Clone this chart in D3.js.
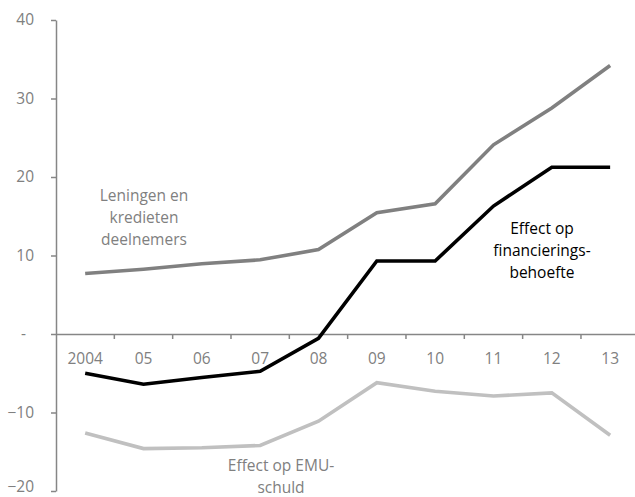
<!DOCTYPE html>
<html>
<head>
<meta charset="utf-8">
<script src="https://cdn.jsdelivr.net/npm/d3@7"></script>
<style>
  html, body { margin: 0; padding: 0; background: #fff; }
  svg text { font-family: "Open Sans", "Noto Sans", sans-serif; }
</style>
</head>
<body>
<svg id="chart" width="635" height="497"></svg>
<script>
const categories = ["2004", "05", "06", "07", "08", "09", "10", "11", "12", "13"];
const leningen = [7.7, 8.25, 8.95, 9.45, 10.75, 15.45, 16.6, 24.1, 28.8, 34.2];
const financiering = [-5.0, -6.4, -5.55, -4.75, -0.55, 9.3, 9.3, 16.3, 21.25, 21.25];
const emu = [-12.6, -14.6, -14.5, -14.2, -11.1, -6.2, -7.3, -7.9, -7.5, -12.9];
const yTicks = [-20, -10, 0, 10, 20, 30, 40];

const series = [
  { name: "Leningen en kredieten deelnemers", values: leningen, color: "#808080" },
  { name: "Effect op EMU-schuld", values: emu, color: "#c0c0c0" },
  { name: "Effect op financieringsbehoefte", values: financiering, color: "#000000" }
];

const labels = [
  { lines: ["Leningen en", "kredieten", "deelnemers"], x: 144, y: 201, color: "#808080" },
  { lines: ["Effect op", "financierings-", "behoefte"], x: 542, y: 234, color: "#000000" },
  { lines: ["Effect op EMU-", "schuld"], x: 281, y: 471, color: "#808080" }
];

const svg = d3.select("#chart");
const axisColor = "#868686";
const textColor = "#808080";
const fontSize = 15.5;

const x = d3.scaleBand().domain(categories).range([56, 639.3]);
const y = d3.scaleLinear().domain([-20, 40]).range([491, 20]);

// Y axis
const yAxis = svg.append("g")
  .attr("transform", "translate(56,0)")
  .call(d3.axisLeft(y).tickValues(yTicks).tickSize(5).tickSizeOuter(0).tickPadding(17)
    .tickFormat(d => d === 0 ? "-" : d3.format("d")(d)));
yAxis.select(".domain").attr("stroke", axisColor).attr("stroke-width", 1.5);
yAxis.selectAll(".tick line").attr("stroke", axisColor).attr("stroke-width", 1.5);
yAxis.selectAll(".tick text")
  .attr("fill", textColor).style("font-size", fontSize + "px")
  .attr("dx", d => d === 0 ? -8 : 0)
  .attr("dy", d => d === -20 ? "0.05em" : "0.32em");

// X axis at zero
const x0 = y(0);
const xAxis = svg.append("g")
  .attr("transform", `translate(0,${x0})`)
  .call(d3.axisBottom(x).tickSize(0).tickSizeOuter(0).tickPadding(19));
xAxis.select(".domain").attr("stroke", axisColor).attr("stroke-width", 1.5);
xAxis.selectAll(".tick text").attr("fill", textColor).style("font-size", fontSize + "px");
// boundary tick marks between categories
const boundaries = categories.slice(1).map(c => x(c));
boundaries.push(x(categories[categories.length - 1]) + x.bandwidth());
xAxis.selectAll(".btick").data(boundaries).enter().append("line")
  .attr("class", "btick")
  .attr("x1", d => d).attr("x2", d => d)
  .attr("y1", 0).attr("y2", 5)
  .attr("stroke", axisColor).attr("stroke-width", 1.5);

// Lines
const line = d3.line()
  .x((d, i) => x(categories[i]) + x.bandwidth() / 2)
  .y(d => y(d));

svg.append("g").selectAll("path").data(series).enter().append("path")
  .attr("d", d => line(d.values))
  .attr("fill", "none")
  .attr("stroke", d => d.color)
  .attr("stroke-width", 3.6)
  .attr("stroke-linejoin", "miter");

// Labels
labels.forEach(l => {
  const t = svg.append("text")
    .attr("text-anchor", "middle")
    .attr("fill", l.color)
    .style("font-size", fontSize + "px");
  l.lines.forEach((s, i) => {
    t.append("tspan").attr("x", l.x).attr("y", l.y + i * 22).text(s);
  });
});
</script>
</body>
</html>
